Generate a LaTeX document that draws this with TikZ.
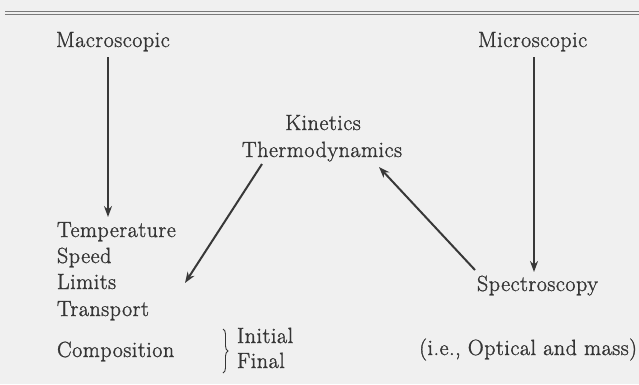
\documentclass[tikz,border=0pt]{standalone}
\usepackage{fontspec}
\setmainfont{Latin Modern Roman}[FakeBold=1.3,LetterSpace=2.5]
\usetikzlibrary{arrows.meta,decorations.pathreplacing}
\definecolor{bgc}{HTML}{F0F0F0}
\definecolor{txt}{HTML}{353535}
\definecolor{arrc}{HTML}{383838}
\definecolor{rulec}{HTML}{7A7A7A}
\begin{document}
\begin{tikzpicture}[x=1pt,y=-1pt,
  lbl/.style={inner sep=0pt,outer sep=0pt,text=txt,font=\fontsize{22}{26}\selectfont},
  arr/.style={draw=arrc,line width=2pt,-{Stealth[length=11pt,width=8pt]}},
  rulel/.style={draw=rulec,line width=1.3pt},
  bracestyle/.style={draw=txt,line width=0.9pt,decorate,decoration={brace,amplitude=5pt}}]
\fill[bgc] (0,0) rectangle (639,384);
\useasboundingbox (0,0) rectangle (639,384);
\draw[rulel] (5,11.3) -- (639,11.3);
\draw[rulel] (5,14.8) -- (639,14.8);
\node[lbl,anchor=base west] (macro) at (56,47) {Macroscopic};
\node[lbl,anchor=base west] (micro) at (478,47) {Microscopic};
\node[lbl,anchor=base] (kin) at (323,130) {Kinetics};
\node[lbl,anchor=base] (thermo) at (322,157) {Thermodynamics};
\node[lbl,anchor=base west] (temp) at (57,237) {Temperature};
\node[lbl,anchor=base west] (speed) at (57,263) {Speed};
\node[lbl,anchor=base west] (limits) at (57,289) {Limits};
\node[lbl,anchor=base west] (transport) at (57,316) {Transport};
\node[lbl,anchor=base west] (comp) at (57,357) {Composition};
\node[lbl,anchor=base west] (initial) at (237,343) {Initial};
\node[lbl,anchor=base west] (final) at (237,368) {Final};
\node[lbl,anchor=base west] (spectro) at (477,291) {Spectroscopy};
\node[lbl,anchor=base east] (ie) at (637,355) {(i.e., Optical and mass)};
\coordinate (bt) at ([xshift=-14pt,yshift=14pt]initial.base west);
\coordinate (bb) at ([xshift=-14pt,yshift=-5pt]final.base west);
\draw[bracestyle] (bt) -- (bb);
\draw[arr] ([xshift=52pt,yshift=-10pt]macro.base west) -- ([xshift=51pt,yshift=20pt]temp.base west);
\draw[arr] ([xshift=56pt,yshift=-10pt]micro.base west) -- ([xshift=57pt,yshift=19pt]spectro.base west);
\draw[arr] ([xshift=-60pt,yshift=-7pt]thermo.base) -- ([xshift=128pt,yshift=6pt]limits.base west);
\draw[arr] ([xshift=-2pt,yshift=21pt]spectro.base west) -- ([xshift=57pt,yshift=-10pt]thermo.base);
\end{tikzpicture}
\end{document}
